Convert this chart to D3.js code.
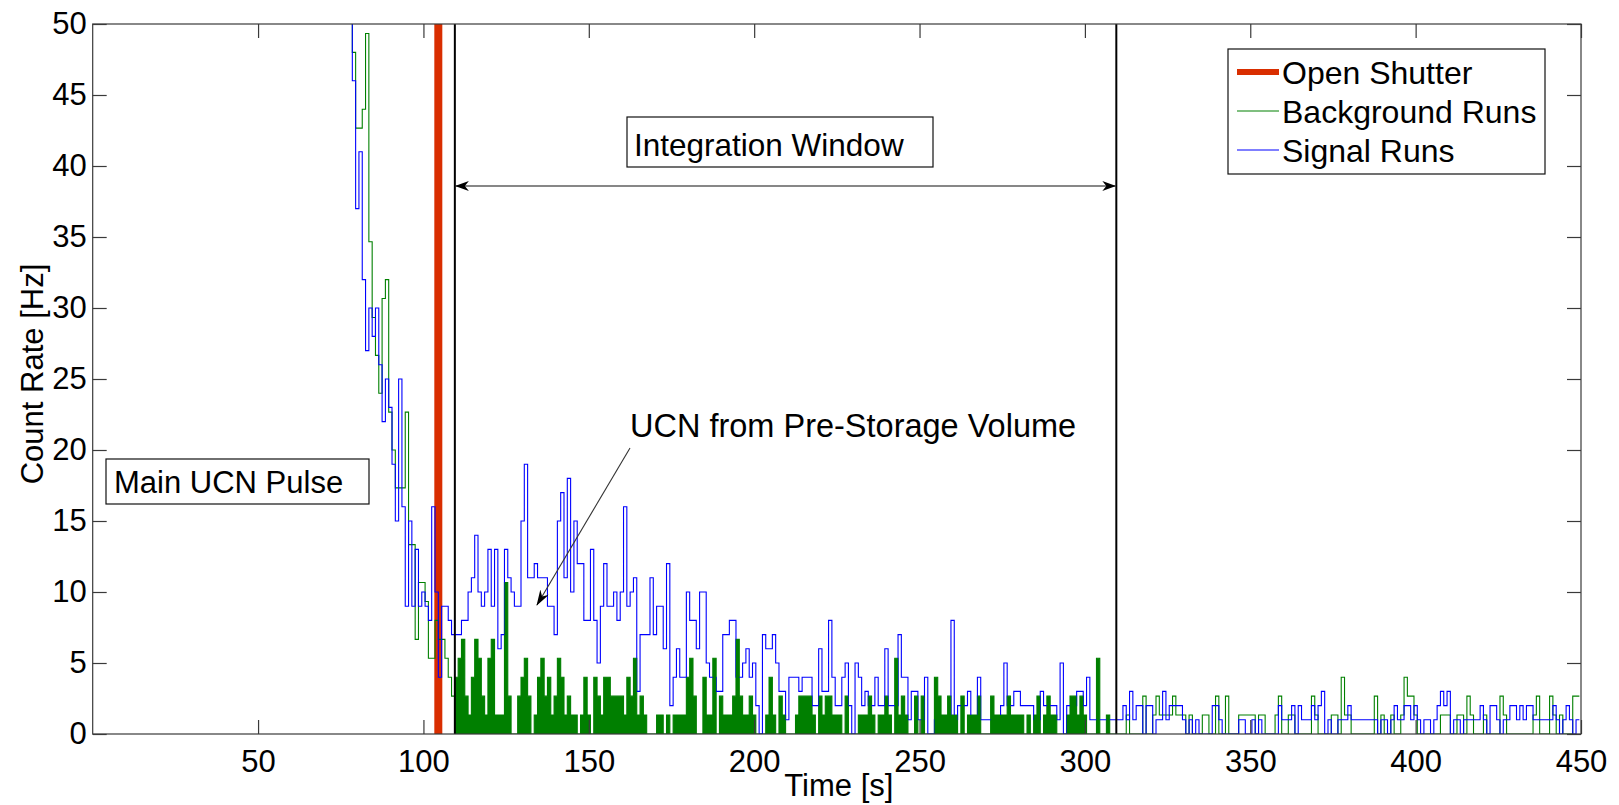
<!DOCTYPE html>
<html>
<head>
<meta charset="utf-8">
<script src="https://cdn.jsdelivr.net/npm/d3@7"></script>
<style>
  html, body { margin: 0; padding: 0; background: #fff; }
  svg { display: block; }
  text { font-family: "Liberation Sans", Arial, Helvetica, sans-serif; fill: #000; }
</style>
</head>
<body>
<svg id="chart" width="1619" height="805"></svg>
<script>
// ---- data: 1 s bins, first bin centred at tStart ----
const tStart = 76;

// Signal runs, count rate [Hz] per bin (t = 76 ... 449)
const signalRate = [
  60, 57, 52, 46,
  37, 41, 32, 27, 30, 28, 30, 26, 22, 25,
  23, 19, 15, 25, 16, 9, 15, 9, 13, 9,
  10, 9, 8, 16, 10, 4, 9, 9, 8, 7,
  7, 7, 8, 8, 10, 11, 14, 10, 9, 10,
  13, 9, 13, 6, 7, 13, 11, 10, 9, 9,
  15, 19, 11, 11, 12, 11, 11, 11, 9, 9,
  7, 15, 17, 11, 18, 10, 15, 12, 12, 8,
  8, 13, 8, 5, 9, 12, 9, 9, 10, 8,
  10, 16, 9, 10, 11, 3, 7, 7, 7, 11,
  7, 9, 9, 6, 12, 2, 4, 6, 4, 4,
  10, 8, 8, 6, 10, 10, 5, 4, 4, 3,
  3, 7, 7, 8, 8, 4, 4, 5, 6, 4,
  5, 2, 0, 7, 6, 6, 7, 5, 3, 3,
  1, 4, 4, 4, 3, 4, 4, 4, 2, 2,
  6, 3, 3, 8, 4, 2, 2, 4, 5, 2,
  0, 5, 4, 2, 3, 2, 2, 4, 2, 2,
  6, 2, 2, 2, 7, 4, 4, 1, 3, 3,
  1, 1, 4, 0, 0, 1, 1, 1, 1, 1,
  8, 1, 2, 2, 2, 3, 1, 1, 4, 1,
  1, 1, 1, 1, 1, 2, 5, 2, 2, 3,
  3, 2, 2, 2, 2, 1, 1, 3, 2, 2,
  2, 2, 1, 5, 0, 2, 2, 2, 3, 3,
  2, 4, 1, 1, 1, 1, 1, 1, 1, 1,
  1, 1, 2, 1, 3, 1, 2, 2, 0, 2,
  2, 0, 1, 1, 3, 1, 2, 2, 2, 2,
  1, 0, 1, 0, 1, 0, 0, 0, 0, 2,
  2, 1, 0, 0, 0, 0, 0, 1, 1, 0,
  0, 1, 0, 1, 0, 0, 0, 0, 0, 2,
  1, 1, 1, 2, 0, 2, 1, 1, 1, 2,
  1, 2, 3, 0, 1, 0, 0, 1, 1, 1,
  2, 1, 1, 1, 1, 1, 1, 1, 1, 0,
  1, 1, 0, 1, 2, 1, 1, 2, 2, 1,
  2, 1, 0, 1, 1, 0, 1, 2, 3, 2,
  3, 0, 1, 1, 0, 1, 1, 1, 1, 1,
  2, 1, 0, 2, 2, 1, 0, 1, 1, 2,
  2, 1, 2, 1, 2, 2, 1, 1, 1, 1,
  1, 1, 2, 1, 0, 1, 2, 1, 0, 1
];

// Background runs, summed counts per bin (t = 76 ... 449)
const backgroundCounts = [
  45, 42, 40, 36,
  32, 32, 33, 37, 26, 22, 20, 18, 23, 24,
  17, 15, 13, 13, 13, 17, 10, 10, 5, 8,
  8, 7, 4, 4, 6, 5, 5, 4, 3, 2,
  3, 4, 5, 2, 1, 3, 5, 4, 2, 1,
  4, 5, 1, 1, 1, 8, 2, 0, 0, 2,
  3, 4, 2, 0, 1, 3, 4, 2, 3, 1,
  2, 4, 3, 1, 2, 1, 1, 0, 1, 3,
  1, 0, 3, 2, 1, 3, 3, 2, 2, 2,
  2, 1, 3, 2, 4, 1, 2, 1, 0, 0,
  0, 1, 1, 0, 1, 0, 1, 1, 1, 1,
  3, 4, 2, 0, 0, 3, 1, 1, 4, 0,
  2, 1, 1, 1, 2, 5, 2, 1, 1, 2,
  1, 0, 0, 0, 1, 3, 1, 0, 2, 1,
  0, 0, 0, 1, 2, 2, 2, 2, 1, 0,
  2, 1, 2, 2, 1, 1, 1, 0, 2, 0,
  0, 0, 1, 1, 1, 2, 1, 0, 1, 1,
  2, 1, 0, 4, 1, 2, 1, 0, 0, 2,
  0, 2, 0, 0, 0, 3, 2, 1, 1, 2,
  1, 1, 0, 2, 0, 1, 1, 1, 2, 0,
  0, 0, 2, 1, 1, 1, 1, 2, 1, 1,
  1, 1, 0, 1, 0, 1, 2, 0, 1, 2,
  1, 1, 0, 0, 0, 1, 2, 2, 1, 2,
  1, 0, 0, 0, 4, 0, 0, 1, 0, 0,
  0, 0, 0, 1, 0, 0, 0, 0, 2, 0,
  0, 1, 2, 1, 1, 1, 1, 2, 1, 1,
  1, 0, 1, 0, 0, 0, 1, 1, 0, 0,
  2, 0, 0, 2, 0, 0, 0, 1, 1, 1,
  1, 1, 0, 1, 1, 0, 0, 0, 1, 2,
  0, 0, 1, 1, 0, 0, 0, 0, 0, 2,
  1, 0, 0, 0, 0, 1, 1, 0, 3, 1,
  1, 0, 0, 0, 0, 0, 0, 0, 2, 0,
  1, 0, 0, 1, 0, 0, 1, 3, 2, 2,
  1, 0, 0, 0, 0, 0, 0, 0, 1, 1,
  1, 0, 0, 1, 1, 0, 2, 1, 0, 0,
  0, 1, 0, 0, 0, 0, 2, 1, 0, 0,
  0, 0, 0, 0, 0, 0, 1, 2, 0, 0,
  0, 2, 1, 0, 1, 0, 0, 0, 2, 2
];
// exposure (s x runs) that turns background counts into a rate
const backgroundExposure = 0.75;

const shutterTime = 104.5;
const windowStart = 109.5;
const windowEnd = 309.5;

const xTicks = [50, 100, 150, 200, 250, 300, 350, 400, 450];
const yTicks = [0, 5, 10, 15, 20, 25, 30, 35, 40, 45, 50];
const legendLabels = ["Open Shutter", "Background Runs", "Signal Runs"];
const xLabel = "Time [s]";
const yLabel = "Count Rate [Hz]";
const windowLabel = "Integration Window";
const pulseLabel = "Main UCN Pulse";
const storageLabel = "UCN from Pre-Storage Volume";

// ---- layout ----
const margin = { left: 92.7, right: 1581, top: 24, bottom: 734 };
const TICK_FONT = 31;
const colors = { signal: "#0000ff", bg: "#008000", bgFill: "#007f00", shutter: "#d92e00", axis: "#3a3a3a" };

const svg = d3.select("#chart");
const x = d3.scaleLinear().domain([0, 450]).range([margin.left, margin.right]);
const y = d3.scaleLinear().domain([0, 50]).range([margin.bottom, margin.top]);

const signal = signalRate.map((v, i) => ({ t: tStart + i, v }));
const background = backgroundCounts.map((c, i) => ({ t: tStart + i, v: c / backgroundExposure }));

// step polyline through bin edges
function stepPoints(series) {
  const pts = series.map(d => [d.t - 0.5, d.v]);
  const last = series[series.length - 1];
  pts.push([last.t + 0.5, last.v]);
  return pts;
}

svg.append("defs").append("clipPath").attr("id", "plotClip")
  .append("rect")
  .attr("x", margin.left).attr("y", margin.top)
  .attr("width", margin.right - margin.left).attr("height", margin.bottom - margin.top);

const plot = svg.append("g").attr("clip-path", "url(#plotClip)");

// shutter opening marker
plot.append("line")
  .attr("x1", x(shutterTime)).attr("x2", x(shutterTime))
  .attr("y1", y(50)).attr("y2", y(0))
  .attr("stroke", colors.shutter).attr("stroke-width", 8);

const stepLine = d3.line().x(d => x(d[0])).y(d => y(d[1])).curve(d3.curveStepAfter);

// background histogram outline
plot.append("path")
  .attr("d", stepLine(stepPoints(background)))
  .attr("fill", "none").attr("stroke", colors.bg).attr("stroke-width", 1.1);

// signal histogram outline
plot.append("path")
  .attr("d", stepLine(stepPoints(signal)))
  .attr("fill", "none").attr("stroke", colors.signal).attr("stroke-width", 1.1);

// background inside the integration window, drawn filled
const inWindow = background.filter(d => d.t > windowStart && d.t < windowEnd);
const stepArea = d3.area().x(d => x(d[0])).y0(y(0)).y1(d => y(d[1])).curve(d3.curveStepAfter);
plot.append("path")
  .attr("d", stepArea(stepPoints(inWindow)))
  .attr("fill", colors.bgFill).attr("stroke", "none");

// integration window borders
[windowStart, windowEnd].forEach(t => {
  plot.append("line")
    .attr("x1", x(t)).attr("x2", x(t))
    .attr("y1", y(50)).attr("y2", y(0))
    .attr("stroke", "#000").attr("stroke-width", 2);
});

// ---- axes (box with inward ticks) ----
const tickLen = 14;
const axisG = svg.append("g");
axisG.append("rect")
  .attr("x", margin.left).attr("y", margin.top)
  .attr("width", margin.right - margin.left).attr("height", margin.bottom - margin.top)
  .attr("fill", "none").attr("stroke", colors.axis).attr("stroke-width", 1.2);

const xAxisB = d3.axisBottom(x).tickValues(xTicks).tickSize(-tickLen);
const gxb = axisG.append("g").attr("transform", `translate(0,${margin.bottom})`).call(xAxisB);
gxb.select(".domain").remove();
gxb.selectAll("line").attr("stroke", colors.axis).attr("stroke-width", 1.2);
gxb.selectAll("text").attr("font-size", TICK_FONT).attr("dy", null).attr("y", 38)
  .attr("fill", "#000");

const xAxisT = d3.axisTop(x).tickValues(xTicks).tickSize(-tickLen).tickFormat("");
const gxt = axisG.append("g").attr("transform", `translate(0,${margin.top})`).call(xAxisT);
gxt.select(".domain").remove();
gxt.selectAll("line").attr("stroke", colors.axis).attr("stroke-width", 1.2);

const yAxisL = d3.axisLeft(y).tickValues(yTicks).tickSize(-tickLen);
const gyl = axisG.append("g").attr("transform", `translate(${margin.left},0)`).call(yAxisL);
gyl.select(".domain").remove();
gyl.selectAll("line").attr("stroke", colors.axis).attr("stroke-width", 1.2);
gyl.selectAll("text").attr("font-size", TICK_FONT).attr("fill", "#000").attr("x", -6);

const yAxisR = d3.axisRight(y).tickValues(yTicks).tickSize(-tickLen).tickFormat("");
const gyr = axisG.append("g").attr("transform", `translate(${margin.right},0)`).call(yAxisR);
gyr.select(".domain").remove();
gyr.selectAll("line").attr("stroke", colors.axis).attr("stroke-width", 1.2);

svg.selectAll(".tick text").attr("font-family", "'Liberation Sans', Arial, sans-serif");

// axis titles
svg.append("text")
  .attr("x", (margin.left + margin.right) / 2 + 2).attr("y", 796)
  .attr("text-anchor", "middle").attr("font-size", 31).text(xLabel);
svg.append("text")
  .attr("transform", `translate(43,374) rotate(-90)`)
  .attr("text-anchor", "middle").attr("font-size", 31).text(yLabel);

// ---- annotations ----
const defs = svg.select("defs");
defs.append("marker").attr("id", "head").attr("viewBox", "0 0 14 10")
  .attr("refX", 13).attr("refY", 5).attr("markerWidth", 14).attr("markerHeight", 10)
  .attr("markerUnits", "userSpaceOnUse").attr("orient", "auto-start-reverse")
  .append("path").attr("d", "M0,0 L14,5 L0,10 L4,5 Z").attr("fill", "#000");

// integration window double arrow
const arrowY = 186;
svg.append("line")
  .attr("x1", x(windowStart) + 1).attr("x2", x(windowEnd) - 1)
  .attr("y1", arrowY).attr("y2", arrowY)
  .attr("stroke", "#111").attr("stroke-width", 1.2)
  .attr("marker-start", "url(#head)").attr("marker-end", "url(#head)");

function boxedLabel(label, bx, by, bw, bh, tx, ty, fs) {
  const g = svg.append("g");
  g.append("rect").attr("x", bx).attr("y", by).attr("width", bw).attr("height", bh)
    .attr("fill", "#fff").attr("stroke", "#111").attr("stroke-width", 1.2);
  g.append("text").attr("x", tx).attr("y", ty).attr("font-size", fs).text(label);
}
boxedLabel(windowLabel, 627, 117, 306, 50, 634, 156, 31.5);
boxedLabel(pulseLabel, 106, 459, 263, 45, 114, 493, 31);

// pre-storage annotation text and arrow
svg.append("text").attr("x", 630).attr("y", 437).attr("font-size", 32.5).text(storageLabel);
defs.append("marker").attr("id", "head2").attr("viewBox", "0 0 16 10")
  .attr("refX", 15).attr("refY", 5).attr("markerWidth", 16).attr("markerHeight", 10)
  .attr("markerUnits", "userSpaceOnUse").attr("orient", "auto")
  .append("path").attr("d", "M0,0 L16,5 L0,10 L5,5 Z").attr("fill", "#000");
svg.append("line")
  .attr("x1", 630).attr("y1", 448).attr("x2", 537).attr("y2", 605)
  .attr("stroke", "#333").attr("stroke-width", 1.1)
  .attr("marker-end", "url(#head2)");

// ---- legend ----
const lg = svg.append("g");
lg.append("rect").attr("x", 1228).attr("y", 49).attr("width", 317).attr("height", 125)
  .attr("fill", "#fff").attr("stroke", "#111").attr("stroke-width", 1.2);
const legendStyles = [
  { color: colors.shutter, width: 6 },
  { color: colors.bg, width: 1.2 },
  { color: colors.signal, width: 1.2 }
];
legendLabels.forEach((label, i) => {
  const ly = 72 + i * 39;
  lg.append("line").attr("x1", 1237).attr("x2", 1279).attr("y1", ly).attr("y2", ly)
    .attr("stroke", legendStyles[i].color).attr("stroke-width", legendStyles[i].width);
  lg.append("text").attr("x", 1282).attr("y", ly).attr("dy", "0.36em")
    .attr("font-size", 32).text(label);
});
</script>
</body>
</html>
